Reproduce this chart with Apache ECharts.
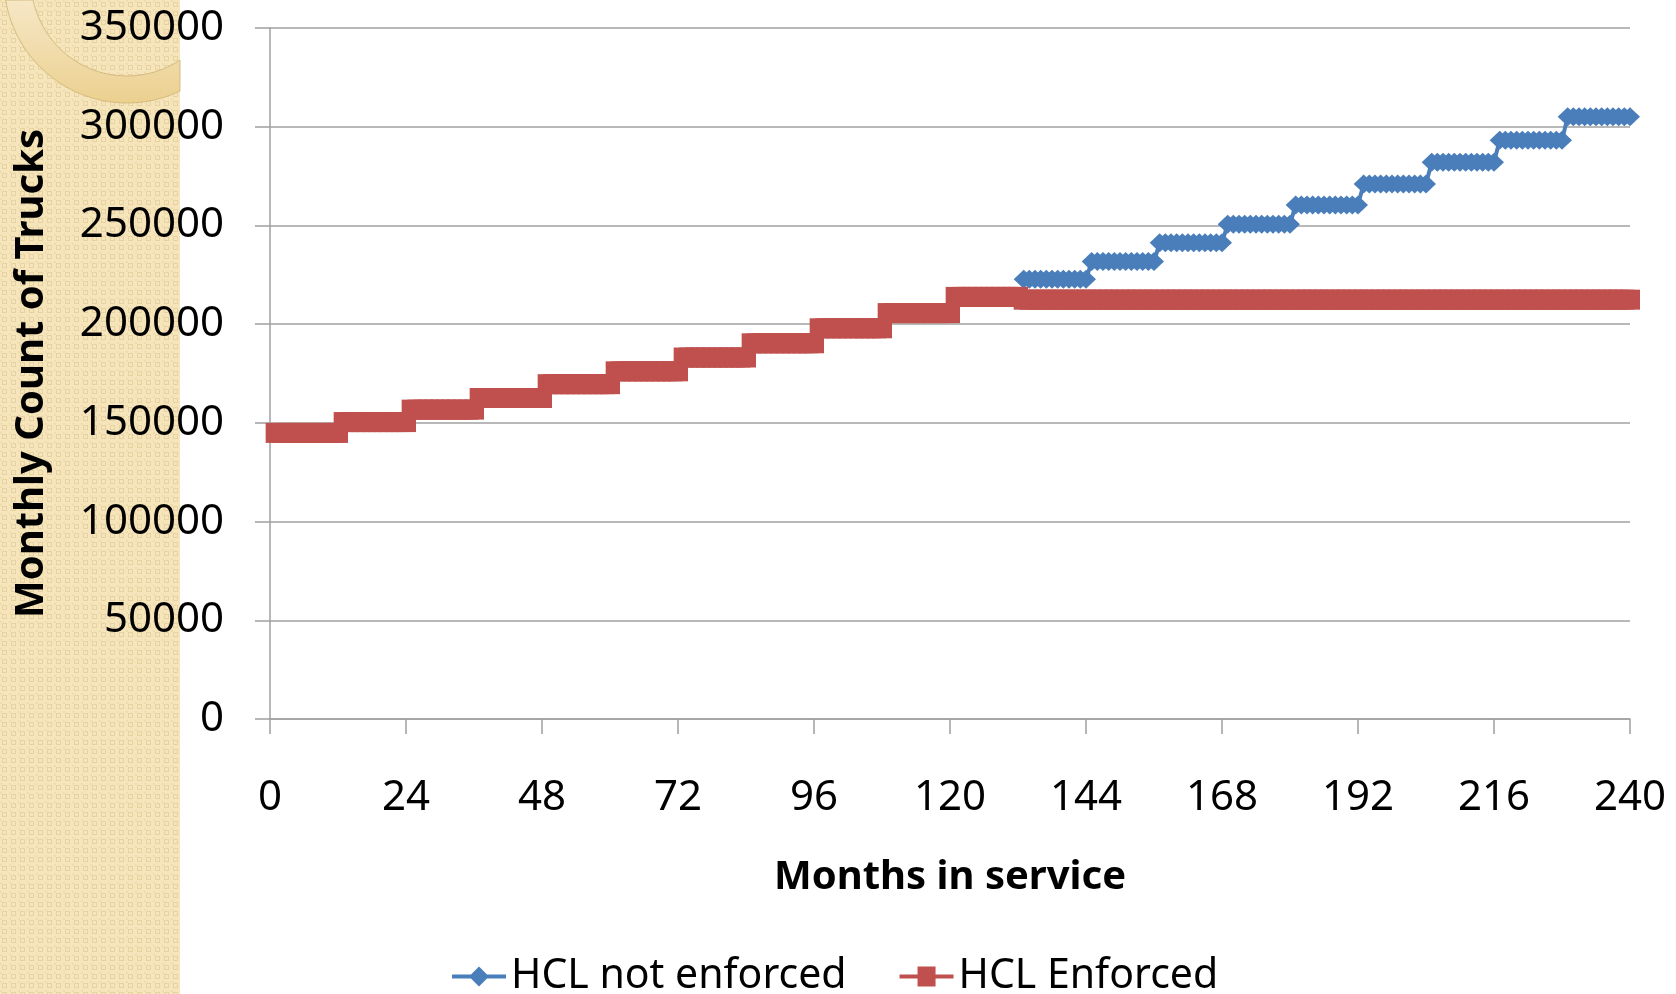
<!DOCTYPE html>
<html>
<head>
<meta charset="utf-8">
<script src="https://cdn.jsdelivr.net/npm/echarts@6/dist/echarts.min.js"></script>
<style>
  html, body { margin: 0; padding: 0; background: #fff; }
  #chart { width: 1676px; height: 994px; }
</style>
</head>
<body>
<div id="chart"></div>
<script>
// one value per year of service (each year = 12 monthly points)
const monthsPerYear = 12;
const years = 20;
const notEnforcedByYear = [null, null, null, null, null, null, null, null, null, null, null,
  222700, 231700, 241200, 250600, 260400, 271000, 282000, 293100, 305100];
const enforcedByYear = [144900, 150400, 156700, 162600, 169600, 176100, 183100, 190300, 197900, 205600, 213800,
  212400, 212400, 212400, 212400, 212400, 212400, 212400, 212400, 212400];
const xTicks = [0, 24, 48, 72, 96, 120, 144, 168, 192, 216, 240];
const yTicks = [0, 50000, 100000, 150000, 200000, 250000, 300000, 350000];
const seriesNames = ['HCL not enforced', 'HCL Enforced'];

function toMonthly(byYear) {
  const out = [];
  for (let y = 0; y < years; y++) {
    if (byYear[y] == null) continue;
    for (let m = 1; m <= monthsPerYear; m++) {
      out.push([y * monthsPerYear + m, byYear[y]]);
    }
  }
  return out;
}

// beige textured strip on the left
const tile = document.createElement('canvas');
tile.width = 9;
tile.height = 9;
const tc = tile.getContext('2d');
tc.fillStyle = '#f6e5ba';
tc.fillRect(0, 0, 9, 9);
tc.strokeStyle = '#e6d2a2';
tc.lineWidth = 1;
tc.strokeRect(2.5, 2.5, 4, 4);
tc.fillStyle = '#efdcad';
tc.fillRect(0, 0, 2, 2);

// decorative ring in the corner, cut at the strip edge
function ringPiece(cx, cy, r0, r1, a0, a1, b0, b1) {
  const pts = [];
  const toRad = Math.PI / 180;
  for (let i = 0; i <= 40; i++) {
    const t = (a0 + (a1 - a0) * i / 40) * toRad;
    pts.push([cx + r1 * Math.cos(t), cy + r1 * Math.sin(t)]);
  }
  for (let i = 0; i <= 40; i++) {
    const t = (b0 + (b1 - b0) * i / 40) * toRad;
    pts.push([cx + r0 * Math.cos(t), cy + r0 * Math.sin(t)]);
  }
  return pts;
}

// legend icons: line with a marker in the middle, like the Excel legend
const blueIcon = 'path://M0,8 L19,8 L27,0 L35,8 L54,8 L54,12 L35,12 L27,20 L19,12 L0,12 Z';
const redIcon = 'path://M0,8 L18,8 L18,0 L36,0 L36,8 L54,8 L54,12 L36,12 L36,20 L18,20 L18,12 L0,12 Z';

const font = '"Noto Sans", "DejaVu Sans", sans-serif';
const grey = '#a0a0a0';

const chart = echarts.init(document.getElementById('chart'));

const option = {
  backgroundColor: '#fff',
  animation: false,
  graphic: [
    {
      type: 'rect', z: -10, silent: true,
      shape: { x: 0, y: 0, width: 180, height: 994 },
      style: { fill: { image: tile, repeat: 'repeat' } }
    },
    {
      type: 'polygon', z: -9, silent: true,
      shape: { points: ringPiece(127, -20, 96, 123, 170.6, 64.5, 56.5, 168) },
      style: {
        fill: new echarts.graphic.LinearGradient(0, 0, 0, 1, [
          { offset: 0, color: '#f6e7c6' },
          { offset: 1, color: '#ebd08f' }
        ]),
        stroke: '#d6bb80', lineWidth: 1
      }
    }
  ],
  grid: { left: 270, right: 46, top: 28, bottom: 275, outerBoundsMode: 'none', containLabel: false },
  legend: {
    left: 447,
    top: 951,
    itemWidth: 54,
    itemHeight: 20,
    itemGap: 53,
    textStyle: { fontFamily: font, fontSize: 41, color: '#000', padding: [0, 0, 0, 0] },
    data: [
      { name: seriesNames[0], icon: blueIcon },
      { name: seriesNames[1], icon: redIcon }
    ]
  },
  xAxis: {
    type: 'value',
    min: xTicks[0],
    max: xTicks[xTicks.length - 1],
    interval: 24,
    name: 'Months in service',
    nameLocation: 'middle',
    nameGap: 139,
    nameTextStyle: { fontFamily: font, fontSize: 40, fontWeight: 'bold', color: '#000' },
    axisLine: { show: true, lineStyle: { color: grey, width: 1.5 } },
    axisTick: { show: true, length: 15, lineStyle: { color: grey, width: 1.5 } },
    axisLabel: { fontFamily: font, fontSize: 42, color: '#000', margin: 58 },
    splitLine: { show: false }
  },
  yAxis: {
    type: 'value',
    min: yTicks[0],
    max: yTicks[yTicks.length - 1],
    interval: 50000,
    name: 'Monthly Count of Trucks',
    nameLocation: 'middle',
    nameRotate: 90,
    nameGap: 218,
    nameTextStyle: { fontFamily: font, fontSize: 40, fontWeight: 'bold', color: '#000' },
    axisLine: { show: true, lineStyle: { color: grey, width: 1.5 } },
    axisTick: { show: true, length: 15, lineStyle: { color: grey, width: 1.5 } },
    axisLabel: { fontFamily: font, fontSize: 42, color: '#000', margin: 46, formatter: (v) => String(v) },
    splitLine: { show: true, lineStyle: { color: grey, width: 1.5 } }
  },
  series: [
    {
      name: seriesNames[0],
      type: 'line',
      data: toMonthly(notEnforcedByYear),
      symbol: 'diamond',
      symbolSize: [20, 19],
      showAllSymbol: true,
      color: '#4a7ebb',
      itemStyle: { color: '#4a7ebb' },
      lineStyle: { color: '#4a7ebb', width: 4 },
      z: 3
    },
    {
      name: seriesNames[1],
      type: 'line',
      data: toMonthly(enforcedByYear),
      symbol: 'rect',
      symbolSize: 20,
      showAllSymbol: true,
      color: '#c0504d',
      itemStyle: { color: '#c0504d' },
      lineStyle: { color: '#c0504d', width: 4 },
      z: 4
    }
  ]
};

chart.setOption(option);
window.addEventListener('resize', () => chart.resize());
</script>
</body>
</html>
